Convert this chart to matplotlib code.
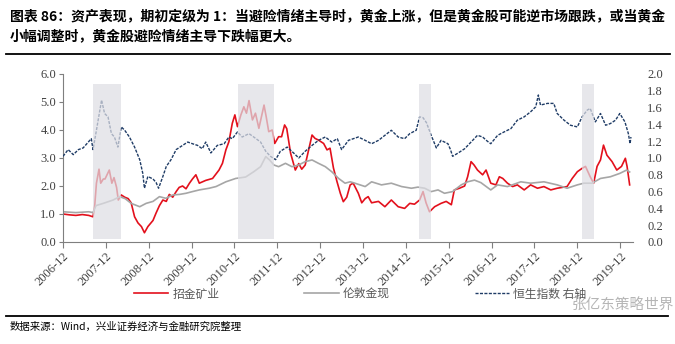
import matplotlib
matplotlib.use("Agg")
import matplotlib.pyplot as plt
import numpy as np

plt.rcParams['font.family'] = ['Noto Sans CJK SC', 'DejaVu Sans']

# x = years since 2006-12
zj_t = [0.00, 0.15, 0.30, 0.45, 0.60, 0.70, 0.74, 0.78, 0.84, 0.88, 0.94, 0.98, 1.08, 1.14, 1.19, 1.25,
        1.29, 1.36, 1.44, 1.52, 1.59, 1.67, 1.75, 1.83, 1.90, 1.98, 2.10, 2.17, 2.25, 2.33, 2.41, 2.48,
        2.56, 2.64, 2.71, 2.79, 2.87, 2.95, 3.02, 3.10, 3.18, 3.33, 3.49, 3.64, 3.72, 3.80, 3.87, 3.95,
        4.01, 4.07, 4.15, 4.22, 4.28, 4.34, 4.42, 4.49, 4.57, 4.69, 4.74, 4.80, 4.88, 4.94, 5.03, 5.10,
        5.17, 5.22, 5.31, 5.42, 5.50, 5.57, 5.65, 5.73, 5.81, 5.88, 5.96, 6.08, 6.16, 6.23, 6.31, 6.39,
        6.47, 6.54, 6.62, 6.70, 6.77, 6.89, 6.97, 7.05, 7.12, 7.20, 7.36, 7.51, 7.66, 7.82, 7.97, 8.09,
        8.20, 8.32, 8.40, 8.47, 8.55, 8.67, 8.82, 8.94, 9.06, 9.13, 9.25, 9.37, 9.44, 9.52, 9.59, 9.67,
        9.79, 9.87, 9.98, 10.10, 10.18, 10.26, 10.37, 10.49, 10.60, 10.76, 10.91, 11.07, 11.22, 11.38,
        11.53, 11.76, 11.88, 12.00, 12.11, 12.19, 12.30, 12.38, 12.46, 12.54, 12.61, 12.69, 12.81, 12.92,
        13.03, 13.12, 13.16, 13.22]
zj_v = [1.00, 0.97, 0.95, 0.98, 0.95, 0.90, 1.30, 2.10, 2.60, 2.10, 2.25, 2.25, 2.57, 2.10, 2.30, 1.95,
        1.50, 1.68, 1.60, 1.55, 1.40, 0.90, 0.68, 0.55, 0.33, 0.55, 0.77, 1.03, 1.30, 1.50, 1.45, 1.70,
        1.60, 1.80, 1.95, 2.00, 1.90, 2.10, 2.25, 2.40, 2.10, 2.20, 2.27, 2.57, 2.81, 3.29, 3.58, 4.24,
        4.54, 4.12, 4.54, 4.83, 4.60, 5.05, 4.36, 4.60, 4.06, 4.89, 4.48, 3.94, 4.00, 3.52, 3.76, 3.76,
        4.18, 4.05, 3.17, 2.57, 2.80, 2.60, 2.75, 3.29, 3.82, 3.70, 3.64, 3.52, 3.29, 3.35, 2.64, 2.17,
        1.74, 1.44, 1.60, 2.04, 2.10, 1.74, 1.40, 1.55, 1.62, 1.40, 1.45, 1.26, 1.50, 1.26, 1.20, 1.38,
        1.35, 1.50, 1.80, 1.40, 1.08, 1.26, 1.38, 1.45, 1.33, 1.86, 1.92, 2.00, 2.33, 2.87, 2.75, 2.57,
        2.40, 2.57, 2.10, 2.04, 2.33, 2.27, 2.10, 1.98, 2.04, 1.86, 2.04, 1.92, 1.98, 1.86,
        1.92, 1.98, 2.27, 2.51, 2.63, 2.70, 2.33, 2.10, 2.70, 2.93, 3.46, 3.10, 2.87, 2.57,
        2.70, 2.99, 2.70, 2.04]

gold_t = [0.00, 0.30, 0.60, 0.70, 0.77, 0.94, 1.17, 1.32, 1.45, 1.59, 1.79, 1.94, 2.10, 2.25, 2.40, 2.56,
          2.72, 2.87, 3.02, 3.18, 3.41, 3.57, 3.80, 4.03, 4.26, 4.45, 4.61, 4.73, 4.82, 4.92, 5.03, 5.19,
          5.34, 5.50, 5.65, 5.81, 5.96, 6.12, 6.27, 6.43, 6.58, 6.70, 6.81, 7.05, 7.20, 7.43, 7.66, 7.90,
          8.13, 8.28, 8.44, 8.59, 8.75, 8.90, 9.09, 9.29, 9.44, 9.60, 9.75, 9.98, 10.14, 10.37, 10.68,
          10.91, 11.22, 11.53, 11.76, 12.00, 12.15, 12.34, 12.54, 12.77, 12.99, 13.15, 13.22]
gold_v = [1.08, 1.05, 1.08, 1.05, 1.30, 1.38, 1.50, 1.62, 1.55, 1.38, 1.26, 1.38, 1.45, 1.62, 1.56, 1.68,
          1.70, 1.74, 1.80, 1.86, 1.92, 1.98, 2.15, 2.27, 2.32, 2.51, 2.69, 3.05, 2.93, 2.75, 2.69, 2.81,
          2.69, 2.75, 2.87, 2.93, 2.81, 2.69, 2.51, 2.27, 2.10, 2.15, 2.10, 1.98, 2.15, 2.04, 2.10, 1.98,
          1.92, 1.96, 1.92, 1.80, 1.86, 1.74, 1.80, 2.04, 2.15, 2.21, 2.12, 1.86, 2.04, 1.98, 2.15,
          2.10, 2.15, 2.04, 1.92, 2.04, 2.10, 2.10, 2.27, 2.33, 2.45, 2.57, 2.50]

hsi_t = [0.00, 0.12, 0.24, 0.36, 0.47, 0.59, 0.66, 0.70, 0.78, 0.86, 0.90, 0.97, 1.05, 1.13, 1.20, 1.28,
         1.36, 1.44, 1.55, 1.67, 1.79, 1.86, 1.90, 1.98, 2.10, 2.17, 2.23, 2.33, 2.41, 2.52, 2.64, 2.79,
         2.91, 3.02, 3.14, 3.25, 3.33, 3.45, 3.60, 3.76, 3.87, 3.95, 4.07, 4.18, 4.34, 4.45, 4.61, 4.73,
         4.84, 4.96, 5.07, 5.23, 5.38, 5.50, 5.65, 5.81, 5.96, 6.12, 6.27, 6.40, 6.50, 6.66, 6.89, 7.05,
         7.20, 7.36, 7.51, 7.66, 7.82, 7.97, 8.09, 8.24, 8.32, 8.40, 8.48, 8.59, 8.71, 8.82, 8.98, 9.04,
         9.09, 9.22, 9.37, 9.52, 9.67, 9.79, 9.90, 9.98, 10.14, 10.29, 10.45, 10.60, 10.76, 10.91, 11.03,
         11.09, 11.14, 11.30, 11.45, 11.53, 11.69, 11.84, 12.00, 12.11, 12.23, 12.30, 12.42, 12.54, 12.66,
         12.77, 12.89, 12.99, 13.11, 13.19, 13.23, 13.25]
hsi_v = [1.02, 1.10, 1.04, 1.10, 1.12, 1.19, 1.23, 1.10, 1.33, 1.57, 1.69, 1.53, 1.49, 1.29, 1.25, 1.13,
         1.37, 1.33, 1.25, 1.13, 0.98, 0.82, 0.64, 0.78, 0.75, 0.71, 0.64, 0.78, 0.90, 0.98, 1.10, 1.15,
         1.19, 1.17, 1.15, 1.11, 1.19, 1.06, 1.15, 1.17, 1.25, 1.23, 1.31, 1.25, 1.29, 1.25, 1.19, 1.08,
         1.02, 0.98, 1.08, 1.13, 1.06, 1.00, 1.08, 1.15, 1.21, 1.25, 1.19, 1.23, 1.10, 1.21, 1.25, 1.21,
         1.17, 1.21, 1.27, 1.33, 1.25, 1.23, 1.29, 1.33, 1.49, 1.48, 1.42, 1.27, 1.12, 1.21, 1.17, 1.10,
         1.02, 1.06, 1.11, 1.19, 1.27, 1.25, 1.20, 1.17, 1.27, 1.31, 1.35, 1.45, 1.49, 1.55, 1.61,
         1.75, 1.63, 1.65, 1.65, 1.53, 1.45, 1.39, 1.37, 1.49, 1.57, 1.59, 1.43, 1.53, 1.39,
         1.41, 1.45, 1.53, 1.43, 1.29, 1.17, 1.25]

# shaded risk-off periods (years since 2006-12)
shade_start = [0.69, 4.08, 8.30, 12.12]
shade_end = [1.36, 4.92, 8.59, 12.40]

tick_labels = ['%d-12' % y for y in range(2006, 2020)]
labels = ['招金矿业', '伦敦金现', '恒生指数 右轴']

fig = plt.figure(figsize=(6.75, 3.44), dpi=100)
ax = fig.add_axes([63 / 675, 1 - 242 / 344, (633.5 - 63) / 675, (242 - 74) / 344])
ax2 = ax.twinx()

l1, = ax.plot(zj_t, zj_v, color='#e3101c', lw=1.2)
l2, = ax.plot(gold_t, gold_v, color='#a6a6a6', lw=1.2)
l3, = ax2.plot(hsi_t, hsi_v, color='#1f3c66', lw=1.0, dashes=(2.2, 1.0))

for s, e in zip(shade_start, shade_end):
    ax2.axvspan(s, e, ymin=0.015, ymax=0.94, color='#dedee4', alpha=0.72, lw=0, zorder=5)

ax.set_xlim(0, 13.31)
ax.set_ylim(0, 6)
ax2.set_ylim(0, 2)
ax.set_yticks(np.arange(0, 6.01, 1.0))
ax.set_yticklabels(['%.1f' % v for v in np.arange(0, 6.01, 1.0)])
ax2.set_yticks(np.arange(0, 2.01, 0.2))
ax2.set_yticklabels(['%.1f' % v for v in np.arange(0, 2.01, 0.2)])
ax.set_xticks(range(14))
ax.set_xticklabels(tick_labels, rotation=45, ha='right', rotation_mode='anchor')

for a in (ax, ax2):
    for sp in a.spines.values():
        sp.set_visible(False)
ax.spines['left'].set_visible(True)
ax.spines['bottom'].set_visible(True)
ax.spines['left'].set_color('#7f7f7f')
ax.spines['bottom'].set_color('#7f7f7f')

tick_font = {'family': 'Liberation Serif', 'size': 9}
for lab in ax.get_xticklabels() + ax.get_yticklabels() + ax2.get_yticklabels():
    lab.set_fontfamily('Liberation Serif')
    lab.set_fontsize(9)
    lab.set_color('#404040')
ax.tick_params(axis='y', length=3, color='#7f7f7f', pad=2)
ax.tick_params(axis='x', length=4, color='#7f7f7f', pad=2)
ax2.tick_params(axis='y', length=0, pad=10)

fig.legend([l1, l2, l3], labels, loc='center left', bbox_to_anchor=(128 / 675, 1 - 294 / 344),
           ncol=3, frameon=False, fontsize=8.5, handlelength=2.9, handletextpad=0.35,
           columnspacing=7.2, borderpad=0, labelcolor='#595959')

fig.text(10 / 675, 1 - 16 / 344,
         '图表 86：资产表现，期初定级为 1：当避险情绪主导时，黄金上涨，但是黄金股可能逆市场跟跌，或当黄金',
         fontsize=10, fontweight='bold', va='center', ha='left')
fig.text(10 / 675, 1 - 36 / 344, '小幅调整时，黄金股避险情绪主导下跌幅更大。',
         fontsize=10, fontweight='bold', va='center', ha='left')
fig.add_artist(plt.Line2D([6 / 675, 670 / 675], [1 - 54 / 344, 1 - 54 / 344], color='black', lw=1.3))
fig.add_artist(plt.Line2D([6 / 675, 668 / 675], [1 - 316 / 344, 1 - 316 / 344], color='black', lw=1.3))
fig.text(10 / 675, 1 - 327 / 344, '数据来源：Wind，兴业证券经济与金融研究院整理',
         fontsize=7.5, va='center', ha='left')
fig.text(572 / 675, 1 - 306 / 344, '张亿东策略世界', fontsize=10.5, color='#b5b5b5',
         va='center', ha='left')

fig.savefig('out.png', dpi=100, facecolor='white')
